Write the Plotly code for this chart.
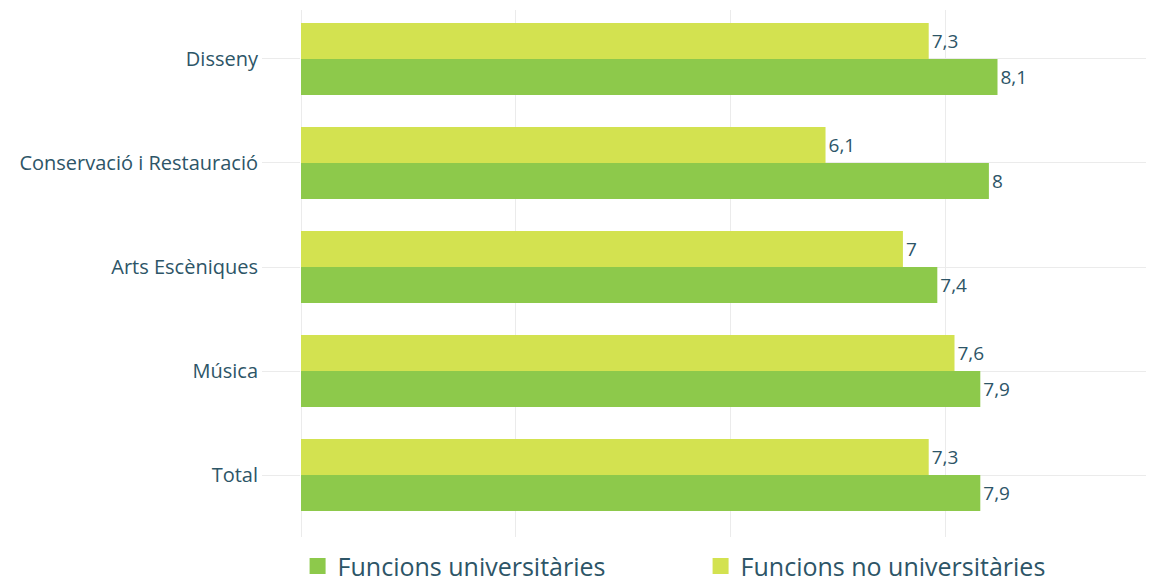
import plotly.graph_objects as go

categories = ["Total", "Música", "Arts Escèniques", "Conservació i Restauració", "Disseny"]
universitaries = [7.9, 7.9, 7.4, 8.0, 8.1]
no_universitaries = [7.3, 7.6, 7.0, 6.1, 7.3]
series_names = ["Funcions universitàries", "Funcions no universitàries"]
colors = ["#8dc94b", "#d3e250"]

def fmt(v):
    s = f"{v:.1f}".rstrip("0").rstrip(".")
    return s.replace(".", ",")

text_color = "#2d5567"
font_family = "Open Sans, Lato, sans-serif"

fig = go.Figure()
for name, vals, col in [(series_names[0], universitaries, colors[0]),
                        (series_names[1], no_universitaries, colors[1])]:
    fig.add_trace(go.Bar(
        y=categories, x=vals, orientation="h", name=name, legendgroup=name,
        showlegend=False,
        marker=dict(color=col, line=dict(width=0)),
        text=[fmt(v) for v in vals], textposition="outside",
        textfont=dict(size=19, color=text_color, family=font_family),
        cliponaxis=False,
    ))
# legend entries with larger square symbols
for name, col in zip(series_names, colors):
    fig.add_trace(go.Scatter(
        x=[None], y=[None], mode="markers", name=name, legendgroup=name,
        marker=dict(symbol="square", size=22, color=col),
        showlegend=True,
    ))

fig.update_layout(
    width=1146, height=577,
    margin=dict(l=293, r=0, t=2, b=48, autoexpand=False),
    barmode="group", bargap=0.308, bargroupgap=0,
    plot_bgcolor="white", paper_bgcolor="white",
    font=dict(family=font_family, color=text_color),
    showlegend=True,
    legend=dict(
        orientation="h", x=-0.004, xanchor="left", y=-0.012, yanchor="top",
        font=dict(size=25, color=text_color, family=font_family),
        traceorder="normal", entrywidth=358, entrywidthmode="pixels",
        itemsizing="trace", itemwidth=30,
    ),
    xaxis=dict(
        range=[0, 9.92], dtick=2.5, tick0=0, showticklabels=False,
        showgrid=True, gridcolor="#ebebeb", gridwidth=1,
        zeroline=True, zerolinecolor="#ebebeb", zerolinewidth=1,
        showline=False, fixedrange=True,
    ),
    yaxis=dict(
        type="category", categoryorder="array", categoryarray=categories,
        range=[-0.596, 4.471],
        showgrid=True, gridcolor="#ebebeb", gridwidth=1,
        tickfont=dict(size=20, color=text_color, family=font_family),
        ticks="outside", ticklen=38, tickcolor="#ebebeb", tickwidth=1,
        ticklabelstandoff=0,
        showline=False,
    ),
)

fig.write_html("out.html")
